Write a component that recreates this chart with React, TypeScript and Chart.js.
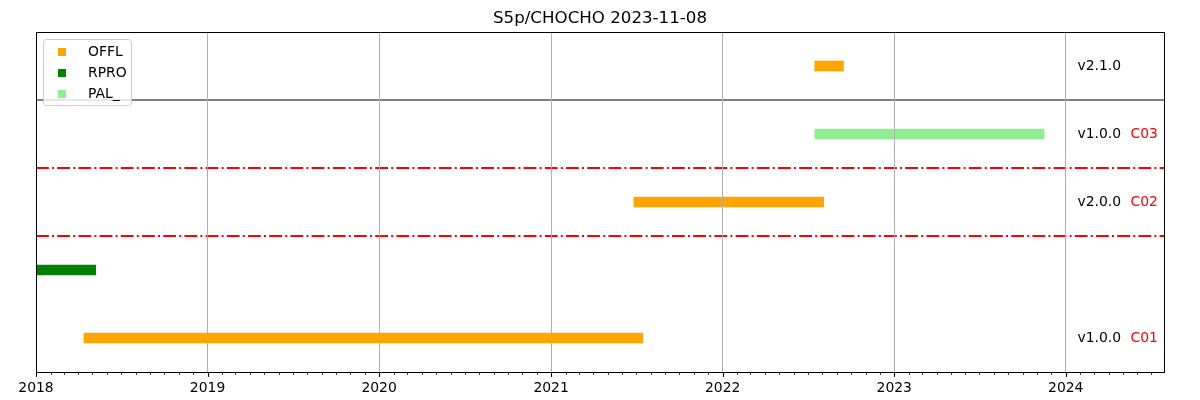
import React, { useEffect, useRef } from 'react';
import { Chart, registerables } from 'chart.js';

Chart.register(...registerables);

const TITLE = 'S5p/CHOCHO 2023-11-08';
// rows, top to bottom
const ROWS = ['r4', 'r3', 'r2', 'r1', 'r0'];
const ROW_VERSIONS = ['v2.1.0', 'v1.0.0', 'v2.0.0', '', 'v1.0.0'];
const ROW_COLLECTIONS = ['', 'C03', 'C02', '', 'C01'];
// separator after row index (between i and i+1)
const SEP_SOLID = [0];
const SEP_DASHDOT = [1, 2];

const OFFL_START = ['2022-07-16', null, '2021-06-26', null, '2018-04-13'];
const OFFL_END = ['2022-09-15', null, '2022-08-04', null, '2021-07-15'];
const RPRO_START = [null, null, null, '2017-11-20', null];
const RPRO_END = [null, null, null, '2018-05-08', null];
const PAL_START = [null, '2022-07-16', null, null, null];
const PAL_END = [null, '2023-11-16', null, null, null];

const SERIES_NAMES = ['OFFL', 'RPRO', 'PAL_'];
const SERIES_COLORS = ['#ffa500', '#008000', '#90ee90'];

const YEAR_TICKS = ['2018', '2019', '2020', '2021', '2022', '2023', '2024'];
const X_MIN = '2018-01-01';
const X_MAX = '2024-07-28';
const LABEL_DATE = '2024-01-26';

const FONT = 'DejaVu Sans';

const BASE = Date.parse(X_MIN + 'T00:00:00Z');
const day = (s: string) => (Date.parse(s + 'T00:00:00Z') - BASE) / 86400000;

const ranges = (st: (string | null)[], en: (string | null)[]) =>
  st.map((s, i) => (s && en[i] ? [day(s), day(en[i] as string)] : null));

const decor = {
  id: 'decor',
  afterDatasetsDraw(chart: any) {
    const { ctx, chartArea: a, scales } = chart;
    const y = scales.y;
    const sepY = (i: number) => (y.getPixelForValue(i) + y.getPixelForValue(i + 1)) / 2;
    ctx.save();
    ctx.lineWidth = 2;
    ctx.strokeStyle = '#808080';
    SEP_SOLID.forEach((i) => {
      const p = sepY(i);
      ctx.beginPath();
      ctx.moveTo(a.left, p);
      ctx.lineTo(a.right, p);
      ctx.stroke();
    });
    ctx.strokeStyle = '#ff0000';
    ctx.setLineDash([12.8, 3.2, 2, 3.2]);
    SEP_DASHDOT.forEach((i) => {
      const p = sepY(i);
      ctx.beginPath();
      ctx.moveTo(a.left, p);
      ctx.lineTo(a.right, p);
      ctx.stroke();
    });
    ctx.restore();
  },
  afterDraw(chart: any) {
    const { ctx, chartArea: a, scales } = chart;
    const x = scales.x;
    const y = scales.y;
    ctx.save();
    // tick marks (monthly minor, yearly major)
    ctx.strokeStyle = '#000';
    const maxV = day(X_MAX);
    for (let yr = 2018; yr <= 2024; yr++) {
      for (let m = 0; m < 12; m++) {
        const v = (Date.UTC(yr, m, 1) - BASE) / 86400000;
        if (v > maxV) continue;
        const px = Math.round(x.getPixelForValue(v)) + 0.5;
        const major = m === 0;
        ctx.lineWidth = major ? 1.1 : 0.85;
        ctx.beginPath();
        ctx.moveTo(px, a.bottom);
        ctx.lineTo(px, a.bottom + (major ? 4.9 : 2.8));
        ctx.stroke();
      }
    }
    // frame
    ctx.lineWidth = 1;
    ctx.strokeStyle = '#000';
    const l = Math.floor(a.left) + 0.5;
    const r = Math.floor(a.right) + 0.5;
    const t = Math.floor(a.top) + 0.5;
    const b = Math.floor(a.bottom) + 0.5;
    ctx.strokeRect(l, t, r - l, b - t);

    // right-hand row labels
    ctx.font = `13.9px "${FONT}"`;
    ctx.textBaseline = 'middle';
    ctx.textAlign = 'left';
    const lx = x.getPixelForValue(day(LABEL_DATE));
    ROWS.forEach((_, i) => {
      const py = y.getPixelForValue(i);
      if (ROW_VERSIONS[i]) {
        ctx.fillStyle = '#000';
        ctx.fillText(ROW_VERSIONS[i], lx, py);
      }
      if (ROW_COLLECTIONS[i]) {
        ctx.fillStyle = '#ff0000';
        ctx.fillText(ROW_COLLECTIONS[i], lx + 53, py);
      }
    });

    // legend
    const bx = a.left + 7.5;
    const by = a.top + 7.5;
    const bw = 88;
    const bh = 66;
    ctx.beginPath();
    ctx.roundRect(bx, by, bw, bh, 3);
    ctx.fillStyle = 'rgba(255,255,255,0.8)';
    ctx.fill();
    ctx.strokeStyle = '#cccccc';
    ctx.lineWidth = 1;
    ctx.stroke();
    SERIES_NAMES.forEach((name, i) => {
      const cy = a.top + 20 + 21 * i;
      ctx.fillStyle = SERIES_COLORS[i];
      ctx.fillRect(a.left + 22, cy - 4, 8, 8);
      ctx.fillStyle = '#000';
      ctx.fillText(name, a.left + 52, cy);
    });
    ctx.restore();
  },
};

export default function App() {
  const ref = useRef<HTMLCanvasElement | null>(null);
  useEffect(() => {
    document.body.style.margin = '0';
    Chart.defaults.font.family = FONT;
    const ds = (i: number, data: any[]) => ({
      label: SERIES_NAMES[i],
      data,
      backgroundColor: SERIES_COLORS[i],
      borderWidth: 0,
      barThickness: 10,
      grouped: false,
      clip: 0,
    });
    const chart = new Chart(ref.current as HTMLCanvasElement, {
      type: 'bar',
      data: {
        labels: ROWS,
        datasets: [
          ds(0, ranges(OFFL_START, OFFL_END)),
          ds(1, ranges(RPRO_START, RPRO_END)),
          ds(2, ranges(PAL_START, PAL_END)),
        ],
      },
      plugins: [decor],
      options: {
        indexAxis: 'y',
        animation: false,
        responsive: true,
        maintainAspectRatio: false,
        events: [],
        layout: { padding: { left: 36, right: 36, top: 0, bottom: 0 } },
        plugins: {
          legend: { display: false },
          tooltip: { enabled: false },
          title: {
            display: true,
            text: TITLE,
            color: '#000',
            font: { family: FONT, size: 16.67, weight: 'normal', lineHeight: 1.2 },
            padding: { top: 9, bottom: 3 },
          },
        },
        scales: {
          y: {
            type: 'category',
            display: false,
          },
          x: {
            type: 'linear',
            min: day(X_MIN),
            max: day(X_MAX),
            border: { display: false },
            grid: {
              display: true,
              drawTicks: false,
              color: '#b0b0b0',
              lineWidth: 1,
              z: 1,
            },
            afterBuildTicks: (scale: any) => {
              scale.ticks = YEAR_TICKS.map((yr) => ({ value: day(yr + '-01-01') }));
            },
            afterFit: (scale: any) => {
              scale.height = 28;
            },
            ticks: {
              autoSkip: false,
              maxRotation: 0,
              padding: 8,
              color: '#000',
              font: { family: FONT, size: 13.9 },
              callback: (_v: any, i: number) => YEAR_TICKS[i],
            },
          },
        },
      } as any,
    });
    return () => chart.destroy();
  }, []);
  return (
    <div style={{ width: 1200, height: 400, position: 'relative' }}>
      <canvas ref={ref} />
    </div>
  );
}
